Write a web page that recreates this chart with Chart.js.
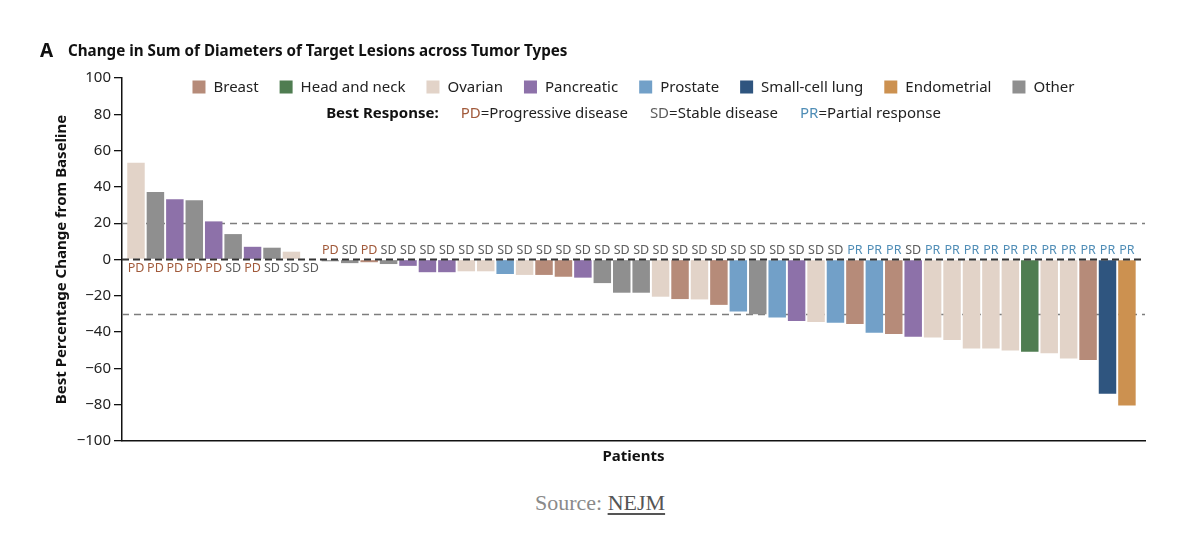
<!DOCTYPE html>
<html>
<head>
<meta charset="utf-8">
<script src="https://cdn.jsdelivr.net/npm/chart.js@4.4.1/dist/chart.umd.min.js"></script>
<style>
  body { margin: 0; background: #fff; }
  #wrap { position: relative; width: 1200px; height: 480px; }
  #source { position: absolute; top: 490px; left: 0; width: 1200px; text-align: center;
            font-family: "Liberation Serif", "DejaVu Serif", serif; font-size: 22px; color: #8a8a8a; }
  #source u { color: #555; text-underline-offset: 3px; }
</style>
</head>
<body>
<div id="wrap"><canvas id="waterfall" width="1200" height="480"></canvas></div>
<div id="source">Source: <u>NEJM</u></div>
<script>
// tumour types and their legend colours
const tumorTypes = ['Breast', 'Head and neck', 'Ovarian', 'Pancreatic', 'Prostate', 'Small-cell lung', 'Endometrial', 'Other'];
const tumorColors = ['#b68b79', '#4f7d51', '#e2d3c8', '#8d71a9', '#72a0c8', '#2f557f', '#cc9150', '#8f8f8f'];

// one entry per patient, left to right
const patientTumor = [
  'Ovarian', 'Other', 'Pancreatic', 'Other', 'Pancreatic', 'Other', 'Pancreatic', 'Other', 'Ovarian', 'Other',
  'Other', 'Other', 'Breast', 'Other', 'Pancreatic', 'Pancreatic', 'Pancreatic', 'Ovarian', 'Ovarian', 'Prostate',
  'Ovarian', 'Breast', 'Breast', 'Pancreatic', 'Other', 'Other', 'Other', 'Ovarian', 'Breast', 'Ovarian',
  'Breast', 'Prostate', 'Other', 'Prostate', 'Pancreatic', 'Ovarian', 'Prostate', 'Breast', 'Prostate', 'Breast',
  'Pancreatic', 'Ovarian', 'Ovarian', 'Ovarian', 'Ovarian', 'Ovarian', 'Head and neck', 'Ovarian', 'Ovarian', 'Breast',
  'Small-cell lung', 'Endometrial'
];
const bestChange = [
  53.3, 37.2, 33.2, 32.6, 21, 14, 7, 6.5, 4.3, 0,
  -1, -2, -1.5, -2.5, -3.5, -7, -7, -6.5, -6.5, -8,
  -8.5, -8.5, -9.5, -10, -13, -18.3, -18.3, -20.5, -21.8, -22,
  -25, -28.7, -30.2, -32, -33.9, -34.4, -34.8, -35.5, -40.3, -41,
  -42.5, -43, -44.3, -49, -49, -50.2, -50.8, -51.7, -54.5, -55.4,
  -74, -80.5
];
const bestResponse = [
  'PD', 'PD', 'PD', 'PD', 'PD', 'SD', 'PD', 'SD', 'SD', 'SD',
  'PD', 'SD', 'PD', 'SD', 'SD', 'SD', 'SD', 'SD', 'SD', 'SD',
  'SD', 'SD', 'SD', 'SD', 'SD', 'SD', 'SD', 'SD', 'SD', 'SD',
  'SD', 'SD', 'SD', 'SD', 'SD', 'SD', 'SD', 'PR', 'PR', 'PR',
  'SD', 'PR', 'PR', 'PR', 'PR', 'PR', 'PR', 'PR', 'PR', 'PR',
  'PR', 'PR'
];
const responseCodes = ['PD', 'SD', 'PR'];
const responseNames = ['Progressive disease', 'Stable disease', 'Partial response'];
const responseColors = ['#a15a3b', '#5c5c5c', '#4f8db6'];

const yTicks = { min: -100, max: 100, step: 20 };
const refLines = [20, -30];

const FONT = '"Noto Sans", "Open Sans", sans-serif';

const waterfallExtras = {
  id: 'waterfallExtras',
  beforeDatasetsDraw(chart) {
    const { ctx, chartArea, scales: { y } } = chart;
    ctx.save();
    ctx.strokeStyle = '#7d7d7d';
    ctx.lineWidth = 1.3;
    ctx.setLineDash([7, 5]);
    refLines.forEach(v => {
      const py = Math.round(y.getPixelForValue(v)) + 0.5;
      ctx.beginPath();
      ctx.moveTo(chartArea.left, py);
      ctx.lineTo(chartArea.right, py);
      ctx.stroke();
    });
    ctx.restore();
  },
  afterDatasetsDraw(chart) {
    const { ctx, chartArea, scales: { y } } = chart;
    const zero = y.getPixelForValue(0);
    ctx.save();
    // zero line sits on top of the bars
    ctx.strokeStyle = '#333';
    ctx.lineWidth = 1.8;
    ctx.setLineDash([7, 4]);
    ctx.beginPath();
    ctx.moveTo(chartArea.left, zero);
    ctx.lineTo(chartArea.right, zero);
    ctx.stroke();
    ctx.setLineDash([]);

    // best response code for each patient
    ctx.font = '12.5px ' + FONT;
    ctx.textAlign = 'center';
    ctx.textBaseline = 'middle';
    chart.getDatasetMeta(0).data.forEach((bar, i) => {
      const code = bestResponse[i];
      ctx.fillStyle = responseColors[responseCodes.indexOf(code)];
      const ty = bestChange[i] >= 0 ? zero + 9 : zero - 9;
      ctx.fillText(code, bar.x, ty);
    });
    ctx.restore();
  },
  afterDraw(chart) {
    const { ctx, chartArea } = chart;
    const cx = (chartArea.left + chartArea.right) / 2;
    ctx.save();

    // panel title
    ctx.fillStyle = '#111';
    ctx.textBaseline = 'alphabetic';
    ctx.textAlign = 'left';
    ctx.font = 'bold 19px ' + FONT;
    ctx.fillText('A', 40, 57);
    ctx.font = 'bold 15.2px ' + FONT;
    ctx.fillText('Change in Sum of Diameters of Target Lesions across Tumor Types', 68, 56);

    // legend row 1: tumour types
    ctx.textBaseline = 'middle';
    ctx.font = '15px ' + FONT;
    const box = 13, boxGap = 8, itemGap = 21;
    const widths = tumorTypes.map(t => box + boxGap + ctx.measureText(t).width);
    let total = widths.reduce((a, b) => a + b, 0) + itemGap * (tumorTypes.length - 1);
    let x = cx - total / 2;
    const row1 = 87;
    tumorTypes.forEach((t, i) => {
      ctx.fillStyle = tumorColors[i];
      ctx.fillRect(x, row1 - box / 2, box, box);
      ctx.fillStyle = '#222';
      ctx.fillText(t, x + box + boxGap, row1 + 1);
      x += widths[i] + itemGap;
    });

    // legend row 2: response codes
    const row2 = 113;
    const gap2 = 22;
    ctx.font = 'bold 15px ' + FONT;
    const headW = ctx.measureText('Best Response:').width;
    ctx.font = '15px ' + FONT;
    const parts = responseCodes.map((c, i) => {
      const cw = ctx.measureText(c).width;
      const nw = ctx.measureText('=' + responseNames[i]).width;
      return { cw, nw };
    });
    total = headW + parts.reduce((a, p) => a + gap2 + p.cw + p.nw, 0);
    x = cx - total / 2;
    ctx.fillStyle = '#111';
    ctx.font = 'bold 15px ' + FONT;
    ctx.fillText('Best Response:', x, row2 + 1);
    x += headW;
    ctx.font = '15px ' + FONT;
    responseCodes.forEach((c, i) => {
      x += gap2;
      ctx.fillStyle = responseColors[i];
      ctx.fillText(c, x, row2 + 1);
      x += parts[i].cw;
      ctx.fillStyle = '#222';
      ctx.fillText('=' + responseNames[i], x, row2 + 1);
      x += parts[i].nw;
    });
    ctx.restore();
  }
};

new Chart(document.getElementById('waterfall'), {
  type: 'bar',
  data: {
    datasets: [{
      data: bestChange.map((v, i) => ({ x: i + 1, y: v })),
      backgroundColor: patientTumor.map(t => tumorColors[tumorTypes.indexOf(t)]),
      borderWidth: 0,
      barPercentage: 0.9,
      categoryPercentage: 1
    }]
  },
  options: {
    responsive: false,
    animation: false,
    layout: { padding: { top: 78, right: 55, left: 0, bottom: 0 } },
    plugins: { legend: { display: false }, tooltip: { enabled: false }, title: { display: false } },
    scales: {
      x: {
        type: 'linear',
        offset: false,
        min: 0.28,
        max: 52.93,
        ticks: { display: false },
        grid: { display: false, offset: false },
        border: { color: '#111', width: 1.5 },
        title: { display: true, text: 'Patients', color: '#111', font: { family: FONT, size: 15, weight: 'bold' }, padding: { top: 0, bottom: 14.5 } },
        afterFit(scale) { scale.height = 39; }
      },
      y: {
        min: yTicks.min,
        max: yTicks.max,
        ticks: {
          stepSize: yTicks.step,
          color: '#222',
          padding: 3,
          font: { family: FONT, size: 15 },
          callback: v => String(v).replace('-', '\u2212')
        },
        grid: { drawOnChartArea: false, drawTicks: true, tickLength: 8, color: '#111', lineWidth: 1.3 },
        border: { color: '#111', width: 1.5 },
        title: { display: true, text: 'Best Percentage Change from Baseline', color: '#111', font: { family: FONT, size: 15, weight: 'bold' }, padding: { top: 53, bottom: 0 } },
        afterFit(scale) { scale.width = 122; }
      }
    }
  },
  plugins: [waterfallExtras]
});
</script>
</body>
</html>
